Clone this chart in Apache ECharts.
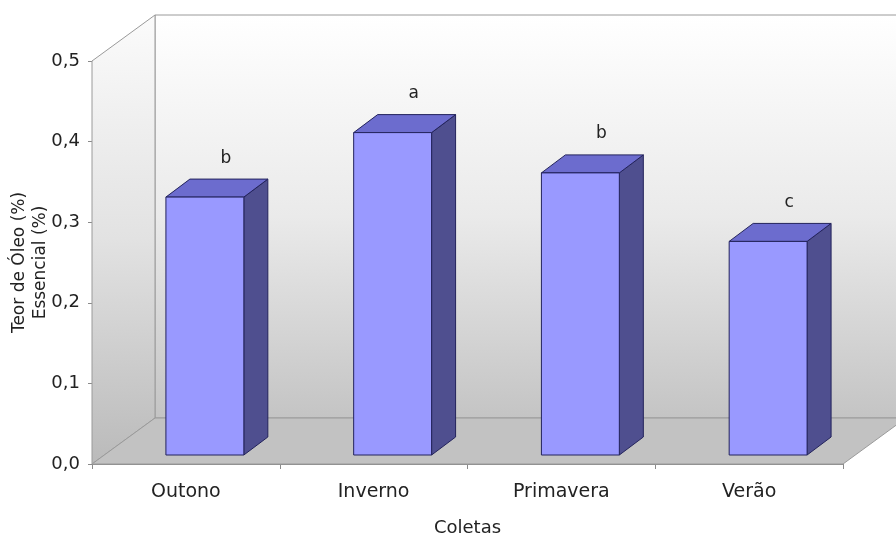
<!DOCTYPE html>
<html>
<head>
<meta charset="utf-8">
<script src="https://cdn.jsdelivr.net/npm/echarts@6/dist/echarts.min.js"></script>
<style>
html,body{margin:0;padding:0;background:#fff;}
#chart{width:896px;height:538px;}
</style>
</head>
<body>
<div id="chart"></div>
<script>
// ---- data ----
const categories = ['Outono', 'Inverno', 'Primavera', 'Verão'];
const teorOleo = [0.32, 0.40, 0.35, 0.265];
const letras = ['b', 'a', 'b', 'c'];
const yMin = 0, yMax = 0.5, yStep = 0.1;

// ---- style constants ----
const FONT = 'DejaVu Sans';
const WALL_D = [63, -46];     // depth of the 3D box
const BAR_SHIFT = [19, -9];   // bar front face offset inside the box
const BAR_D = [24, -18];      // bar depth
const BAR_W = 0.415;          // fraction of category width

const chart = echarts.init(document.getElementById('chart'), null, {renderer: 'canvas'});

function wallsRender(params, api) {
  const cs = params.coordSys;
  const x = cs.x, y = cs.y, w = cs.width, h = cs.height;
  const dx = WALL_D[0], dy = WALL_D[1];
  const edge = '#9a9a9a';
  return {
    type: 'group',
    children: [
      { // back wall
        type: 'polygon',
        shape: {points: [[x + dx, y + dy], [x + w + dx, y + dy], [x + w + dx, y + h + dy], [x + dx, y + h + dy]]},
        style: {
          fill: new echarts.graphic.LinearGradient(0, 0, 0, 1, [
            {offset: 0, color: '#ffffff'}, {offset: 0.5, color: '#eaeaea'}, {offset: 1, color: '#c4c4c4'}
          ]),
          stroke: edge, lineWidth: 1
        }
      },
      { // left wall
        type: 'polygon',
        shape: {points: [[x, y], [x + dx, y + dy], [x + dx, y + h + dy], [x, y + h]]},
        style: {
          fill: new echarts.graphic.LinearGradient(0, 0, 0, 1, [
            {offset: 0, color: '#fbfbfb'}, {offset: 0.5, color: '#e2e2e2'}, {offset: 1, color: '#bababa'}
          ]),
          stroke: edge, lineWidth: 1
        }
      },
      { // floor
        type: 'polygon',
        shape: {points: [[x, y + h], [x + dx, y + h + dy], [x + w + dx, y + h + dy], [x + w, y + h]]},
        style: {fill: '#c2c2c2', stroke: edge, lineWidth: 1}
      }
    ]
  };
}

function barRender(params, api) {
  const idx = api.value(0);
  const top = api.coord([idx, api.value(1)]);
  const base = api.coord([idx, 0]);
  const bw = api.size([1, 0])[0] * BAR_W;
  const xL = top[0] + BAR_SHIFT[0] - bw / 2;
  const xR = xL + bw;
  const yT = top[1] + BAR_SHIFT[1];
  const yB = base[1] + BAR_SHIFT[1];
  const dx = BAR_D[0], dy = BAR_D[1];
  const line = '#23235c';
  return {
    type: 'group',
    children: [
      {type: 'polygon', shape: {points: [[xR, yT], [xR + dx, yT + dy], [xR + dx, yB + dy], [xR, yB]]},
        style: {fill: '#4f4f8f', stroke: line, lineWidth: 1}},
      {type: 'polygon', shape: {points: [[xL, yT], [xL + dx, yT + dy], [xR + dx, yT + dy], [xR, yT]]},
        style: {fill: '#6c6cce', stroke: line, lineWidth: 1}},
      {type: 'rect', shape: {x: xL, y: yT, width: bw, height: yB - yT},
        style: {fill: '#9999ff', stroke: line, lineWidth: 1}},
      {type: 'text', x: (xL + xR) / 2 + dx - 3, y: yT + dy - 21,
        style: {text: letras[idx], fill: '#222', font: '17px "' + FONT + '"', align: 'center', verticalAlign: 'middle'}}
    ]
  };
}

const option = {
  backgroundColor: '#ffffff',
  animation: false,
  grid: {left: 92, right: 53, top: 61, bottom: 74, containLabel: false, outerBoundsMode: 'none'},
  xAxis: {
    type: 'category',
    data: categories,
    name: 'Coletas',
    nameLocation: 'middle',
    nameGap: 55,
    nameMoveOverlap: false,
    nameTextStyle: {fontFamily: FONT, fontSize: 18, color: '#222'},
    axisLine: {show: true, lineStyle: {color: '#8a8a8a', width: 1}},
    axisTick: {show: true, length: 5, lineStyle: {color: '#8a8a8a'}},
    axisLabel: {fontFamily: FONT, fontSize: 19, color: '#222', margin: 19},
    splitLine: {show: false}
  },
  yAxis: {
    type: 'value',
    min: yMin, max: yMax, interval: yStep,
    name: 'Teor de Óleo (%)\nEssencial (%)',
    nameLocation: 'middle',
    nameRotate: 90,
    nameGap: 41,
    nameMoveOverlap: false,
    nameTextStyle: {fontFamily: FONT, fontSize: 17, color: '#222', lineHeight: 21},
    axisLine: {show: true, lineStyle: {color: '#8a8a8a', width: 1}},
    axisTick: {show: true, length: 4, lineStyle: {color: '#8a8a8a'}},
    axisLabel: {fontFamily: FONT, fontSize: 18, color: '#222', margin: 12,
      formatter: v => v.toFixed(1).replace('.', ',')},
    splitLine: {show: false}
  },
  series: [
    {type: 'custom', name: 'walls', z: 1, silent: true, renderItem: wallsRender, data: [[0, 0]]},
    {type: 'custom', name: 'Teor', z: 3, renderItem: barRender,
      data: teorOleo.map((v, i) => [i, v]),
      encode: {x: 0, y: 1}}
  ]
};
chart.setOption(option);
</script>
</body>
</html>
